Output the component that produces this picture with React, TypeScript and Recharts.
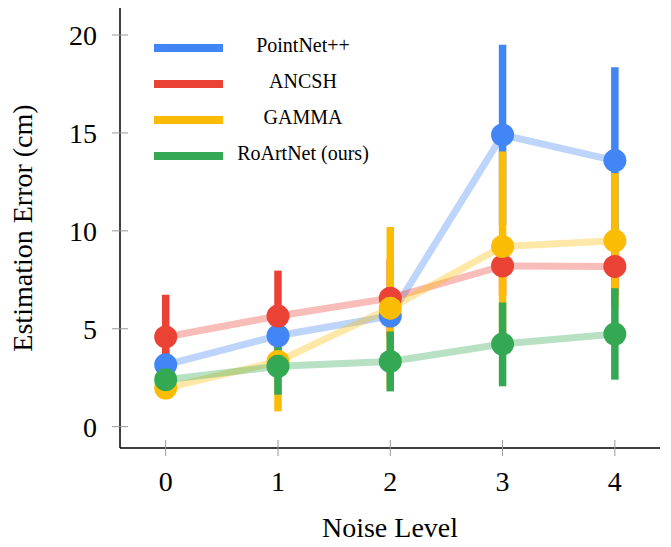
import React from "react";
import {
  ComposedChart,
  Line,
  Scatter,
  ErrorBar,
  XAxis,
  YAxis,
} from "recharts";

const noiseLevels = [0, 1, 2, 3, 4];

const pointnetMean = [3.16, 4.64, 5.65, 14.9, 13.59];
const pointnetLow = [2.36, 3.84, 5.05, 10.3, 9.0];
const pointnetHigh = [3.96, 5.44, 6.25, 19.5, 18.35];

const ancshMean = [4.58, 5.65, 6.56, 8.21, 8.18];
const ancshLow = [2.43, 3.33, 4.56, 6.7, 6.7];
const ancshHigh = [6.73, 7.97, 8.56, 9.7, 9.7];

const gammaMean = [1.97, 3.33, 6.05, 9.2, 9.49];
const gammaLow = [1.57, 0.78, 1.9, 4.35, 6.03];
const gammaHigh = [2.37, 5.88, 10.2, 14.05, 12.95];

const oursMean = [2.4, 3.08, 3.33, 4.22, 4.73];
const oursLow = [2.0, 1.63, 1.8, 2.06, 2.4];
const oursHigh = [2.8, 4.4, 4.86, 6.34, 7.07];

const seriesNames = ["PointNet++", "ANCSH", "GAMMA", "RoArtNet (ours)"];
const seriesColors = ["#4285F4", "#EA4335", "#FBBC05", "#34A853"];

const yTicks = [0, 5, 10, 15, 20];

const FONT = "'Liberation Serif', 'Times New Roman', serif";

function build(mean: number[], low: number[], high: number[]) {
  return noiseLevels.map((x, i) => ({
    x,
    y: mean[i],
    err: [mean[i] - low[i], high[i] - mean[i]],
  }));
}

const seriesData = [
  build(pointnetMean, pointnetLow, pointnetHigh),
  build(ancshMean, ancshLow, ancshHigh),
  build(gammaMean, gammaLow, gammaHigh),
  build(oursMean, oursLow, oursHigh),
];

const YTick = (props: any) => {
  const { x, y, payload } = props;
  return (
    <g>
      <line x1={x - 8} x2={x + 8} y1={y} y2={y} stroke="#999" strokeWidth={1} />
      <text
        x={x - 23}
        y={y + 10}
        textAnchor="end"
        fontFamily={FONT}
        fontSize={28}
        fill="#000"
      >
        {payload.value}
      </text>
    </g>
  );
};

const XTick = (props: any) => {
  const { x, y, payload } = props;
  return (
    <g>
      <line x1={x} x2={x} y1={y - 8} y2={y + 8} stroke="#999" strokeWidth={1} />
      <text
        x={x}
        y={y + 43}
        textAnchor="middle"
        fontFamily={FONT}
        fontSize={28}
        fill="#000"
      >
        {payload.value}
      </text>
    </g>
  );
};

const Dot = (props: any) => {
  const { cx, cy, fill } = props;
  return <circle cx={cx} cy={cy} r={11.5} fill={fill} />;
};

// legend + axis titles, drawn straight into the svg
const Extras = () => (
  <g>
    {seriesNames.map((name, i) => (
      <g key={name}>
        <line
          x1={154}
          x2={223}
          y1={48 + i * 36}
          y2={48 + i * 36}
          stroke={seriesColors[i]}
          strokeWidth={8}
        />
        <text
          x={303}
          y={52 + i * 36}
          textAnchor="middle"
          fontFamily={FONT}
          fontSize={20}
          fill="#000"
        >
          {name}
        </text>
      </g>
    ))}
    <text
      x={32}
      y={228}
      transform="rotate(-90, 32, 228)"
      textAnchor="middle"
      fontFamily={FONT}
      fontSize={28}
      fill="#000"
    >
      Estimation Error (cm)
    </text>
    <text
      x={390}
      y={537}
      textAnchor="middle"
      fontFamily={FONT}
      fontSize={28}
      fill="#000"
    >
      Noise Level
    </text>
  </g>
);

export default function App() {
  return (
    <div style={{ position: "absolute", left: 0, top: 0, background: "#fff" }}>
      <ComposedChart
        width={671}
        height={547}
        margin={{ top: 8, right: 11, bottom: 0, left: 0 }}
      >
        <XAxis
          dataKey="x"
          type="number"
          domain={[-0.407, 4.402]}
          ticks={noiseLevels}
          allowDataOverflow
          height={99}
          tickSize={0}
          tickMargin={0}
          tick={<XTick />}
          axisLine={{ stroke: "#000", strokeWidth: 1.5 }}
        />
        <YAxis
          dataKey="y"
          type="number"
          domain={[-1.09, 21.38]}
          ticks={yTicks}
          allowDataOverflow
          width={120}
          tickSize={0}
          tickMargin={0}
          tick={<YTick />}
          axisLine={{ stroke: "#000", strokeWidth: 1.5 }}
        />
        {seriesData.map((d, i) => (
          <Line
            key={"line" + i}
            data={d}
            dataKey="y"
            stroke={seriesColors[i]}
            strokeOpacity={0.35}
            strokeWidth={7}
            dot={false}
            activeDot={false}
            isAnimationActive={false}
          >
            <ErrorBar
              dataKey="err"
              direction="y"
              width={0}
              stroke={seriesColors[i]}
              strokeWidth={7.5}
              isAnimationActive={false}
            />
          </Line>
        ))}
        {seriesData.map((d, i) => (
          <Scatter
            key={"dot" + i}
            data={d}
            dataKey="y"
            fill={seriesColors[i]}
            shape={<Dot />}
            isAnimationActive={false}
          />
        ))}
        <Extras />
      </ComposedChart>
    </div>
  );
}
